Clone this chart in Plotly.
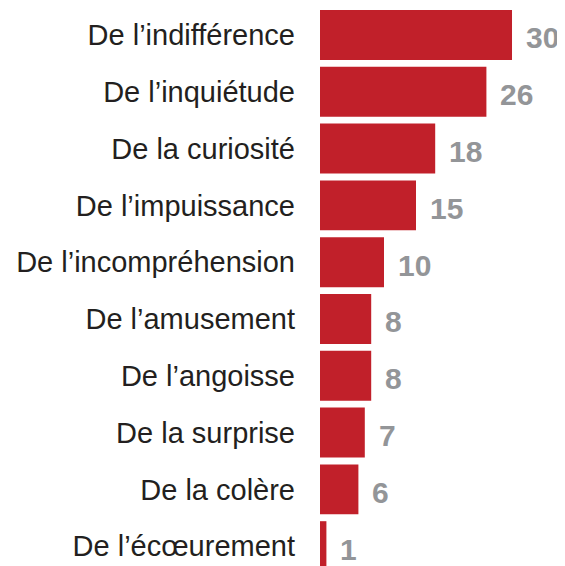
import plotly.graph_objects as go

categories = [
    "De l’indifférence",
    "De l’inquiétude",
    "De la curiosité",
    "De l’impuissance",
    "De l’incompréhension",
    "De l’amusement",
    "De l’angoisse",
    "De la surprise",
    "De la colère",
    "De l’écœurement",
]
values = [30, 26, 18, 15, 10, 8, 8, 7, 6, 1]

BAR_COLOR = "#c1202a"
VALUE_COLOR = "#939598"
LABEL_COLOR = "#231f20"

fig = go.Figure(
    go.Bar(
        x=values,
        y=categories,
        orientation="h",
        marker=dict(color=BAR_COLOR, line=dict(width=0)),
        hoverinfo="skip",
    )
)

for c, v in zip(categories, values):
    fig.add_annotation(
        x=v, y=c, text=str(v), showarrow=False,
        xanchor="left", yanchor="middle", xshift=12, yshift=-3,
        font=dict(family="Liberation Sans", size=30, color=VALUE_COLOR, weight="bold"),
    )

fig.update_layout(
    width=557, height=558,
    margin=dict(l=312, r=0, t=0, b=0),
    paper_bgcolor="white", plot_bgcolor="white",
    bargap=0.12,
    showlegend=False,
    xaxis=dict(range=[0, 38.28], visible=False, fixedrange=True),
    yaxis=dict(
        categoryorder="array", categoryarray=categories,
        range=[9.349, -0.475],
        showgrid=False, zeroline=False, showline=False, ticks="",
        ticklabelstandoff=24,
        tickfont=dict(family="Liberation Sans", size=29, color=LABEL_COLOR),
    ),
)

fig.write_html("out.html")
